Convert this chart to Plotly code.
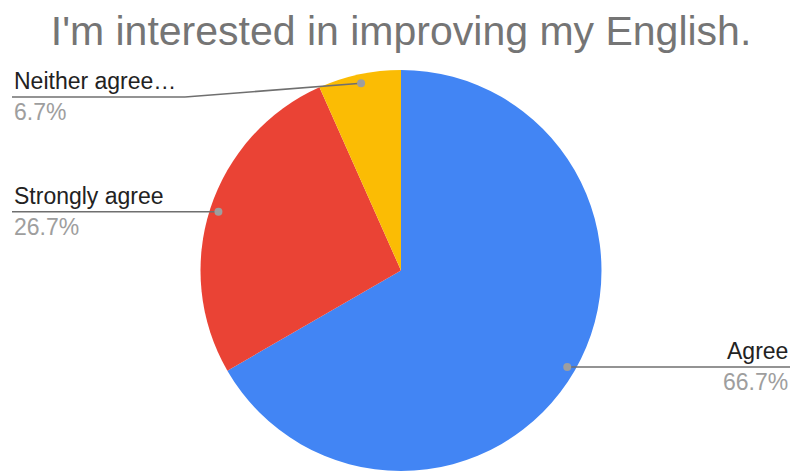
import math
import plotly.graph_objects as go

# ---- data ----
labels = ["Agree", "Strongly agree", "Neither agree nor disagree"]
short_labels = ["Agree", "Strongly agree", "Neither agree…"]
counts = [10, 4, 1]
colors = ["#4285F4", "#EA4335", "#FBBC04"]
title_text = "I'm interested in improving my English."

# ---- layout constants (pixels) ----
W, H = 791, 471
CX, CY, R = 401, 271, 201
DOT_F = 0.955
MIN_LINE_Y = 97
LEFT_X, RIGHT_X = 12, 790
ELBOW_X = 185
LABEL_SIZE = 23


def px(x):
    return x / W


def py(y):
    return 1 - y / H


fig = go.Figure(go.Pie(
    labels=labels,
    values=counts,
    marker=dict(colors=colors, line=dict(width=0)),
    sort=False,
    direction="clockwise",
    rotation=0,
    textinfo="none",
    hoverinfo="label+percent",
    showlegend=False,
    domain=dict(x=[px(CX - R), px(CX + R)], y=[0, py(CY - R)]),
))

total = sum(counts)
shapes = []
annotations = []
line_style = dict(color="#6f6f6f", width=1.6)
cum = 0
for lab, v in zip(short_labels, counts):
    mid = (cum + v / 2) / total * 2 * math.pi
    cum += v
    dx = math.sin(mid) * R * DOT_F
    dy = -math.cos(mid) * R * DOT_F
    dot_x, dot_y = CX + dx, CY + dy
    pct = f"{v / total * 100:.1f}%"
    right = dx > 0
    line_y = max(dot_y, MIN_LINE_Y)
    if right:
        shapes.append(dict(type="line", xref="paper", yref="paper",
                           x0=px(dot_x), y0=py(line_y), x1=px(RIGHT_X), y1=py(line_y),
                           line=line_style))
        tx, xanchor = RIGHT_X, "right"
    else:
        if line_y != dot_y:
            shapes.append(dict(type="line", xref="paper", yref="paper",
                               x0=px(dot_x), y0=py(dot_y), x1=px(ELBOW_X), y1=py(line_y),
                               line=line_style))
            shapes.append(dict(type="line", xref="paper", yref="paper",
                               x0=px(ELBOW_X), y0=py(line_y), x1=px(LEFT_X), y1=py(line_y),
                               line=line_style))
        else:
            shapes.append(dict(type="line", xref="paper", yref="paper",
                               x0=px(dot_x), y0=py(line_y), x1=px(LEFT_X), y1=py(line_y),
                               line=line_style))
        tx, xanchor = LEFT_X, "left"
    shapes.append(dict(type="circle", xref="paper", yref="paper",
                       x0=px(dot_x - 4), x1=px(dot_x + 4),
                       y0=py(dot_y + 4), y1=py(dot_y - 4),
                       fillcolor="#9e9e9e", line=dict(width=0)))
    annotations.append(dict(x=px(tx), y=py(line_y - 16), xref="paper", yref="paper",
                            text=lab, showarrow=False, xanchor=xanchor, yanchor="middle",
                            font=dict(family="Arial", size=LABEL_SIZE, color="#222222")))
    annotations.append(dict(x=px(tx), y=py(line_y + 15), xref="paper", yref="paper",
                            text=pct, showarrow=False, xanchor=xanchor, yanchor="middle",
                            font=dict(family="Arial", size=LABEL_SIZE, color="#9e9e9e")))

fig.update_layout(
    width=W, height=H,
    margin=dict(l=0, r=0, t=0, b=0),
    paper_bgcolor="white",
    title=dict(text=title_text, x=0.507, xanchor="center", y=py(31), yanchor="middle",
               font=dict(family="Arial", size=41, color="#757575")),
    shapes=shapes,
    annotations=annotations,
)

fig.write_html("out.html",
               config={"displayModeBar": False},
               post_script="document.body.style.margin='0';document.body.style.overflow='hidden';")
